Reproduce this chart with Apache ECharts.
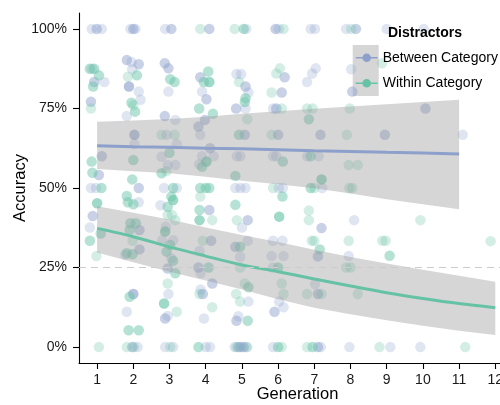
<!DOCTYPE html>
<html>
<head>
<meta charset="utf-8">
<script src="https://cdn.jsdelivr.net/npm/echarts@6/dist/echarts.min.js"></script>
<style>
  html, body { margin: 0; padding: 0; background: #fff; }
  #main { width: 500px; height: 405px; }
</style>
</head>
<body>
<div id="main"></div>
<script>
  // tick values
  const genTicks = [1, 2, 3, 4, 5, 6, 7, 8, 9, 10, 11, 12]
  const accTicks = [0, 25, 50, 75, 100]

  // fitted curves (accuracy %, per generation)
  const betweenGens = [1, 2, 3, 4, 5, 6, 7, 8, 9, 10, 11]
  const betweenFit = [63.3, 63.0, 62.8, 62.5, 62.3, 62.0, 61.7, 61.5, 61.2, 61.0, 60.7]
  const betweenUpper = [70.8, 71.2, 71.7, 72.4, 73.3, 74.1, 74.9, 75.6, 76.3, 77.0, 77.7]
  const betweenLower = [56.0, 55.3, 54.6, 53.5, 52.3, 51.2, 49.9, 48.3, 46.5, 44.9, 43.3]

  const withinGens = [1, 2, 3, 4, 5, 6, 7, 8, 9, 10, 11, 12]
  const withinFit = [37.3, 34.7, 31.5, 28.6, 25.8, 23.7, 21.4, 19.2, 17.1, 15.3, 13.7, 12.4]
  const withinUpper = [44.3, 42.2, 40.1, 37.6, 35.2, 33.0, 30.6, 28.3, 26.3, 24.3, 22.4, 20.5]
  const withinLower = [29.7, 26.7, 23.7, 20.9, 18.1, 15.0, 12.4, 10.3, 8.4, 6.7, 5.1, 3.8]

  // jittered responses: [generation, accuracy %, number of overlapping points]
  const betweenPoints = [
    [0.85, 100, 1], [0.99, 100, 2], [1.13, 100, 1], [0.86, 87.5, 1], [0.92, 83.3, 2], [1.2, 83.3, 1],
    [0.83, 77.1, 2], [1.13, 60, 2], [1.05, 54.1, 2], [0.83, 50, 1], [0.97, 50, 1], [0.88, 41.2, 2], [0.8, 37.6, 1],
    [1.92, 100, 1], [2.0, 100, 2], [2.06, 100, 1], [1.82, 90.2, 2], [1.95, 89.6, 1], [2.15, 88.9, 2],
    [1.97, 87.3, 1], [1.88, 81.9, 3], [2.15, 80.3, 1], [2.2, 77.7, 1], [1.82, 72.6, 1], [2.03, 66.7, 3],
    [2.03, 63.8, 1], [2.15, 50, 2], [2.15, 45.5, 1], [2.17, 36.8, 2], [2.17, 30.7, 2], [1.78, 29, 1],
    [2.0, 16.7, 3], [1.82, 11.1, 1], [1.97, 0, 2], [2.12, 0, 1],
    [2.88, 100, 1], [3.05, 100, 2], [2.87, 89.2, 2], [2.97, 87.6, 2], [2.97, 80.3, 1], [2.87, 72.6, 2],
    [3.16, 71.4, 1], [2.92, 66.7, 1], [3.2, 63.8, 1], [2.78, 59.8, 1], [2.95, 57.2, 1], [3.16, 57.2, 1],
    [2.85, 50, 1], [3.2, 50, 1], [2.75, 44.6, 1], [2.9, 37.8, 1], [2.8, 33.6, 1], [3.1, 33.6, 1],
    [3.05, 27.9, 1], [2.95, 24.7, 2], [2.97, 16.7, 1], [2.88, 9, 2], [2.95, 9.8, 1], [2.88, 0, 1], [3.1, 0, 1],
    [4.1, 100, 2], [3.85, 84.8, 2], [3.9, 80.3, 1], [4.02, 77.9, 2], [3.98, 71.4, 2], [3.8, 69.3, 2],
    [3.85, 66.7, 1], [4.12, 62.5, 2], [3.9, 60, 1], [4.22, 60, 1], [3.82, 57.5, 1], [4.1, 43.1, 2],
    [4.15, 33.4, 2], [3.83, 30.2, 1], [3.8, 25, 2], [3.86, 23.2, 1], [4.18, 20, 2], [3.86, 18.1, 1],
    [3.92, 16.7, 2], [3.95, 9, 1], [4.0, 0, 1], [4.12, 0, 1],
    [5.12, 100, 1], [4.85, 85.8, 1], [4.98, 85.8, 1], [5.1, 81.9, 2], [5.18, 80, 1], [4.84, 75, 2],
    [5.1, 75, 1], [5.08, 66.7, 2], [4.86, 60, 1], [4.96, 60, 1], [4.82, 50, 1], [4.96, 50, 1], [5.1, 50, 1],
    [5.16, 39.9, 2], [5.0, 37.6, 1], [5.16, 33.4, 1], [4.82, 31.5, 2], [4.95, 28.4, 1], [5.18, 14.3, 1],
    [4.9, 9.7, 1], [4.85, 8.3, 2], [4.8, 0, 1], [4.9, 0, 2], [4.97, 0, 2], [5.05, 0, 2], [5.12, 0, 1],
    [5.93, 100, 2], [6.02, 100, 1], [6.18, 84.8, 2], [6.1, 80, 2], [5.86, 75, 1], [5.95, 75, 2],
    [6.0, 66.7, 2], [5.86, 60, 1], [5.95, 60, 1], [6.02, 50, 1], [6.13, 50, 1], [5.86, 33.4, 1],
    [6.12, 33.4, 1], [5.82, 28.6, 1], [6.15, 28.6, 1], [5.86, 25, 1], [6.03, 14.3, 1], [6.15, 12.5, 1],
    [5.9, 11.1, 2], [5.86, 0, 1],
    [6.9, 100, 1], [7.02, 100, 1], [7.04, 87.6, 1], [6.94, 86, 1], [6.8, 83.3, 1], [7.17, 66.7, 2],
    [6.8, 60, 1], [7.12, 60, 1], [7.22, 50, 1], [7.2, 37.4, 2], [7.1, 28.5, 2], [7.02, 19.8, 1],
    [7.1, 16.7, 2], [7.1, 0, 2], [7.18, 0, 1],
    [7.88, 100, 1], [8.15, 100, 2], [8.02, 87.3, 1], [8.05, 80.3, 2], [8.1, 39.9, 1], [7.95, 28.6, 1], [7.97, 0, 1],
    [9.0, 100, 1], [8.95, 66.7, 2], [9.1, 0, 1],
    [10.02, 100, 1], [10.07, 75, 2], [9.93, 0, 1],
    [11.1, 66.7, 1]
  ]
  const withinPoints = [
    [0.8, 87.5, 2], [0.92, 87.5, 2], [1.05, 85.4, 2], [0.89, 81.9, 2], [0.83, 75, 1], [0.85, 58.3, 2],
    [0.87, 54.8, 2], [1.12, 50, 2], [1.0, 45.2, 3], [1.1, 35.7, 2], [0.8, 33.4, 2], [0.98, 28.6, 1], [1.05, 0, 1],
    [1.85, 85, 1], [2.1, 85.4, 2], [1.95, 76.8, 2], [2.0, 76, 1], [2.05, 74, 2], [2.0, 58.8, 2],
    [1.97, 52.7, 2], [1.82, 47.5, 2], [1.85, 45.5, 2], [2.0, 44.9, 2], [1.92, 38.9, 2], [2.07, 38.9, 2],
    [1.9, 36.8, 2], [1.98, 33.4, 1], [1.82, 29.5, 2], [1.98, 29.2, 2], [1.9, 15.8, 2], [1.87, 5.3, 2],
    [2.15, 5.3, 2], [1.82, 0, 1], [2.02, 0, 1],
    [3.02, 84.2, 2], [3.14, 83.3, 2], [2.78, 66.7, 1], [3.14, 66.7, 1], [3.0, 61.1, 2], [2.78, 54.6, 2],
    [2.92, 55.3, 1], [3.1, 50, 2], [3.05, 47.3, 2], [3.1, 46.2, 3], [2.95, 44.1, 2], [2.95, 41.5, 1],
    [3.07, 41.5, 1], [3.16, 39.9, 1], [2.88, 36.3, 3], [3.02, 32.1, 2], [2.92, 30, 2], [3.1, 27.1, 2],
    [3.16, 23.2, 2], [2.95, 20, 1], [2.85, 13.7, 3], [3.2, 11.1, 1], [3.02, 0, 1],
    [3.85, 100, 1], [4.07, 86.6, 2], [3.95, 83.3, 2], [4.1, 83.3, 3], [3.82, 75, 2], [4.2, 73.3, 2],
    [4.02, 58.3, 3], [3.9, 56.7, 2], [3.85, 50, 2], [4.0, 50, 2], [4.1, 50, 2], [3.85, 47.3, 1],
    [3.83, 43.1, 2], [3.83, 39.9, 3], [4.18, 39.9, 1], [3.92, 33.4, 1], [4.08, 25, 2], [3.83, 16.7, 1],
    [4.18, 12.5, 1], [3.8, 0, 2],
    [4.8, 100, 1], [5.05, 100, 2], [4.92, 83.3, 1], [5.1, 78.2, 2], [5.08, 77, 2], [5.15, 71.6, 1],
    [4.92, 66.7, 2], [4.82, 53.8, 2], [4.82, 44.7, 2], [4.86, 39.9, 1], [4.95, 31.5, 2], [4.95, 25, 1],
    [5.08, 20, 1], [5.18, 18.8, 2], [4.84, 16.7, 1], [4.95, 14.3, 1], [5.16, 8.3, 2], [5.15, 0, 1], [4.85, 0, 1],
    [6.15, 100, 1], [6.05, 87.6, 1], [5.95, 86, 1], [5.82, 80, 1], [6.1, 75, 1], [5.82, 66.7, 1],
    [6.13, 58.3, 2], [5.86, 50, 1], [6.12, 47.3, 2], [6.03, 41, 3], [6.0, 25, 2], [6.1, 20, 1],
    [6.15, 16.7, 1], [6.0, 0, 2], [6.1, 0, 1],
    [6.8, 75, 1], [6.95, 75, 1], [6.85, 71.6, 2], [6.9, 60, 2], [7.2, 52.7, 3], [6.9, 50, 2], [7.0, 50, 1],
    [6.85, 42.9, 1], [6.85, 39.9, 1], [6.93, 33.4, 1], [7.0, 33.4, 1], [7.15, 30.7, 2], [6.8, 16.7, 1],
    [7.2, 16.7, 1], [6.8, 0, 1], [6.95, 0, 2],
    [8.02, 100, 1], [7.98, 75, 1], [7.9, 66.7, 1], [7.95, 57.2, 1], [8.2, 57.2, 1], [7.97, 50, 1],
    [8.05, 50, 1], [7.95, 33.4, 1], [7.88, 25, 1], [8.0, 25, 1], [8.2, 16.7, 1],
    [8.87, 89.2, 1], [8.88, 33.4, 1], [8.97, 33.4, 1], [9.08, 28.7, 2], [8.8, 0, 1],
    [9.93, 39.9, 1],
    [11.17, 0, 1],
    [11.87, 33.3, 1]
  ]

  const BLUE = '#8DA0CB'
  const GREEN = '#66C2A5'
  const FONT = 'Liberation Sans, Arial, sans-serif'
  // legend key: line with a dot on it
  const keyIcon = 'path://M0,3.5L22,3.5L22,5.1L0,5.1Z M15.3,4.3A4.3,4.3 0 1,1 6.7,4.3A4.3,4.3 0 1,1 15.3,4.3Z'

  function toPoints(list) {
    // overlapping points stack their alpha
    return list.map((p) => ({
      value: [p[0], p[1]],
      itemStyle: { opacity: 1 - Math.pow(0.72, p[2]) }
    }))
  }

  function bandSeries(name, xs, upper, lower) {
    return {
      name: name,
      type: 'custom',
      z: 3,
      silent: true,
      data: [[xs[0], upper[0]]],
      renderItem: (params, api) => {
        const top = xs.map((x, i) => api.coord([x, upper[i]]))
        const bottom = xs.map((x, i) => api.coord([x, lower[i]])).reverse()
        return {
          type: 'polygon',
          shape: { points: top.concat(bottom) },
          style: { fill: '#999999', opacity: 0.4 }
        }
      }
    }
  }

  const chart = echarts.init(document.getElementById('main'), null, { renderer: 'canvas' })
  chart.setOption({
    animation: false,
    backgroundColor: '#fff',
    textStyle: { fontFamily: FONT },
    title: {
      text: 'Distractors',
      left: 388,
      top: 26,
      padding: 0,
      textStyle: { fontSize: 14, fontWeight: 'bold', color: '#000', fontFamily: FONT }
    },
    graphic: [
      // grey key background (the ribbon fill)
      { type: 'rect', left: 352.7, top: 45, shape: { width: 26, height: 51 }, style: { fill: '#d6d6d6' }, z: 0 }
    ],
    legend: {
      orient: 'vertical',
      left: 355.7,
      top: 45,
      padding: 0,
      itemGap: 0,
      itemWidth: 22,
      itemHeight: 8.6,
      selectedMode: false,
      itemStyle: { borderWidth: 0 },
      textStyle: { fontSize: 14, color: '#000', lineHeight: 25.5, fontFamily: FONT },
      data: [
        { name: 'Between Category', icon: keyIcon },
        { name: 'Within Category', icon: keyIcon }
      ]
    },
    grid: { left: 79, right: 0, top: 13, bottom: 42, containLabel: false, outerBoundsMode: 'none' },
    xAxis: {
      type: 'value',
      min: 0.5,
      max: 12.13,
      name: 'Generation',
      nameLocation: 'middle',
      nameGap: 23,
      nameMoveOverlap: false,
      nameTextStyle: { fontSize: 16.5, color: '#000', padding: [0, 0, 0, 16], fontFamily: FONT },
      axisLine: { show: true, onZero: false, lineStyle: { color: '#000', width: 1.1 } },
      axisTick: { show: true, length: 6, customValues: genTicks, lineStyle: { color: '#000', width: 1.1 } },
      axisLabel: { customValues: genTicks, fontSize: 14, color: '#1a1a1a', margin: 10, fontFamily: FONT },
      splitLine: { show: false }
    },
    yAxis: {
      type: 'value',
      min: -5,
      max: 105,
      name: 'Accuracy',
      nameLocation: 'middle',
      nameGap: 50,
      nameMoveOverlap: false,
      nameTextStyle: { fontSize: 16.5, color: '#000', fontFamily: FONT },
      axisLine: { show: true, onZero: false, lineStyle: { color: '#000', width: 1.1 } },
      axisTick: { show: true, length: 6, customValues: accTicks, lineStyle: { color: '#000', width: 1.1 } },
      axisLabel: { customValues: accTicks, formatter: '{value}%', fontSize: 14, color: '#1a1a1a', margin: 12, fontFamily: FONT },
      splitLine: { show: false }
    },
    series: [
      {
        name: 'Between points',
        type: 'scatter',
        z: 2,
        symbolSize: 10.5,
        itemStyle: { color: BLUE },
        data: toPoints(betweenPoints),
        markLine: {
          silent: true,
          symbol: 'none',
          label: { show: false },
          lineStyle: { color: '#cccccc', type: [7, 5], width: 1 },
          data: [{ yAxis: 25 }]
        }
      },
      {
        name: 'Within points',
        type: 'scatter',
        z: 2,
        symbolSize: 10.5,
        itemStyle: { color: GREEN },
        data: toPoints(withinPoints)
      },
      bandSeries('Between band', betweenGens, betweenUpper, betweenLower),
      bandSeries('Within band', withinGens, withinUpper, withinLower),
      {
        name: 'Between Category',
        type: 'line',
        z: 4,
        symbol: 'none',
        color: BLUE,
        lineStyle: { color: BLUE, width: 3 },
        data: betweenGens.map((g, i) => [g, betweenFit[i]])
      },
      {
        name: 'Within Category',
        type: 'line',
        z: 4,
        symbol: 'none',
        smooth: 0.3,
        color: GREEN,
        lineStyle: { color: GREEN, width: 3 },
        data: withinGens.map((g, i) => [g, withinFit[i]])
      }
    ]
  })
</script>
</body>
</html>
